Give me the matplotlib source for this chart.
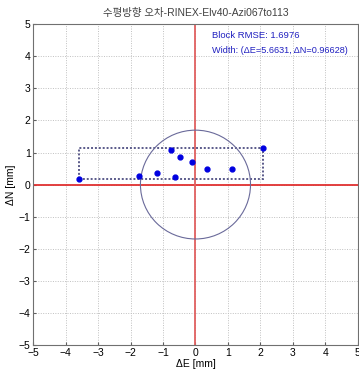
import numpy as np
import matplotlib
matplotlib.use('Agg')
import matplotlib.pyplot as plt
from matplotlib.patches import Circle, Rectangle

plt.rcParams['font.family'] = ['Liberation Sans', 'Noto Sans CJK KR', 'DejaVu Sans']

# horizontal error samples [mm]
dE = np.array([-3.58, -1.75, -1.18, -0.77, -0.63, -0.47, -0.12, 0.37, 1.14, 2.083])
dN = np.array([0.18, 0.27, 0.35, 1.08, 0.24, 0.85, 0.70, 0.48, 0.49, 1.146])
rmse = 1.6976
width_E = 5.6631
width_N = 0.96628
ticks = np.arange(-5, 6, 1)
title = '수평방향 오차-RINEX-Elv40-Azi067to113'

fig = plt.figure(figsize=(3.59, 3.74), dpi=100)
ax = fig.add_axes([0.093, 0.078, 0.903, 0.857])

ax.set_xlim(-5, 5)
ax.set_ylim(-5, 5)
ax.set_xticks(ticks)
ax.set_yticks(ticks)
ax.grid(True, ls=(0, (1, 1.5)), color='#c0c0c0', lw=0.7)
ax.set_axisbelow(True)

ax.axhline(0, color='#e03030', lw=1.3, zorder=2)
ax.axvline(0, color='#e06060', lw=1.3, zorder=2)

# bounding box of the samples
x0, x1 = dE.min(), dE.max()
y0, y1 = dN.min(), dN.max()
ax.add_patch(Rectangle((x0, y0), x1 - x0, y1 - y0, fill=False,
                       ls=(0, (1, 1)), lw=1.4, ec='#5a5a8a', zorder=3))
# RMSE circle
ax.add_patch(Circle((0, 0), rmse, fill=False, ec='#6a6a9a', lw=0.8, zorder=3))

ax.plot(dE, dN, 'o', color='#0000e0', ms=3.5, zorder=4)

ax.text(0.52, 4.64, 'Block RMSE: %.4f' % rmse, color='#2020c0', fontsize=6.8, va='center')
ax.text(0.52, 4.17, 'Width: (\u0394E=%.4f, \u0394N=%.5f)' % (width_E, width_N),
        color='#2020c0', fontsize=6.6, va='center')

ax.set_title(title, fontsize=7.5, color='#404040', pad=6)
ax.set_xlabel('\u0394E [mm]', fontsize=7.5, labelpad=1)
ax.set_ylabel('\u0394N [mm]', fontsize=7.5, labelpad=2)
ax.tick_params(labelsize=7.5, length=2, direction='in', color='#606060', pad=2)
for s in ax.spines.values():
    s.set_color('#707070')
    s.set_linewidth(0.8)

fig.savefig('out.png', dpi=100)
